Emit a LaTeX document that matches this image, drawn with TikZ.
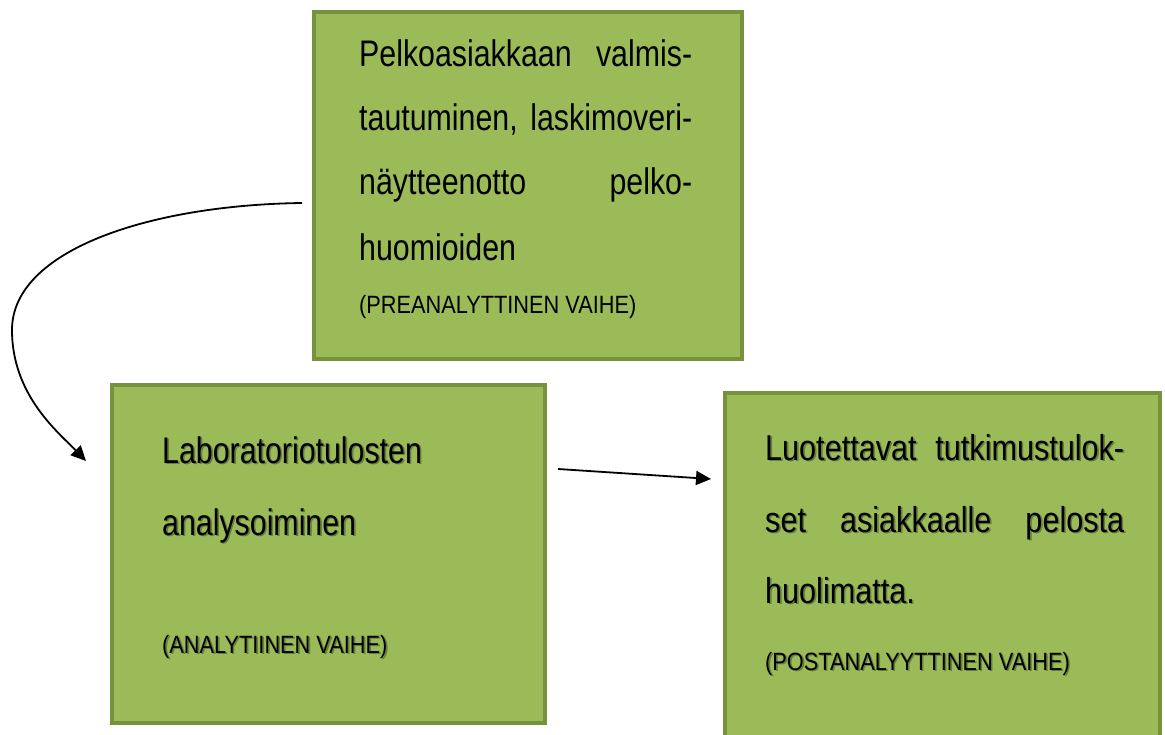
\documentclass[tikz,border=0pt]{standalone}
\usepackage{fontspec}
\setmainfont{Liberation Sans}
\newfontfamily\nfont[FakeStretch=0.82]{Liberation Sans}
\newfontfamily\rfont[FakeStretch=0.85]{Liberation Sans}
\newfontfamily\sfnt[FakeStretch=0.87]{Liberation Sans}
\usetikzlibrary{arrows.meta}
\definecolor{boxfill}{RGB}{155,187,89}
\definecolor{boxline}{RGB}{118,146,60}
\definecolor{shadowc}{RGB}{104,126,62}
\newcommand\shd[1]{\rlap{\kern1.6pt\lower1.6pt\hbox{\color{shadowc}#1}}#1}
\newcommand\mainsz{\nfont\fontsize{37}{42}\selectfont}
\newcommand\rsz{\rfont\fontsize{36}{42}\selectfont}
\newcommand\smallsz{\sfnt\fontsize{25}{30}\selectfont}
\begin{document}
\begin{tikzpicture}[x={(1pt,0)},y={(0,-1pt)},
  greenbox/.style={draw=boxline,fill=boxfill,line width=4pt,rectangle,inner sep=0pt},
  txt/.style={anchor=base west,inner sep=0pt,text=black},
  conn/.style={draw=black,line width=1.8pt,-{Triangle[length=15pt,width=14pt]}}]
\useasboundingbox (0,0) rectangle (1165,735);
\clip (0,0) rectangle (1165,735);
\fill[white] (0,0) rectangle (1165,735);
% boxes
\node[greenbox,minimum width=428pt,minimum height=347pt] (pre) at (528,185.5) {};
\node[greenbox,minimum width=433pt,minimum height=338pt] (ana) at (328.5,554) {};
\node[greenbox,minimum width=435pt,minimum height=352pt] (post) at (942.5,569) {};
% top box text
\node[txt,font=\mainsz] (p1) at (359,67) {\makebox[333pt][s]{Pelkoasiakkaan valmis-}};
\node[txt,font=\mainsz] (p2) at (359,131) {\makebox[333pt][s]{tautuminen, laskimoveri-}};
\node[txt,font=\mainsz] (p3) at (359,195) {\makebox[333pt][s]{näytteenotto pelko-}};
\node[txt,font=\mainsz] (p4) at (359,261) {huomioiden};
\node[txt,font=\smallsz] (p5) at (359,314) {(PREANALYTTINEN VAIHE)};
% left box text
\node[txt,font=\mainsz] (a1) at (162,463) {\shd{Laboratoriotulosten}};
\node[txt,font=\mainsz] (a2) at (162,535) {\shd{analysoiminen}};
\node[txt,font=\smallsz] (a3) at (162,653) {\shd{(ANALYTIINEN VAIHE)}};
% right box text
\node[txt,font=\rsz] (r1) at (765,460) {\shd{\makebox[359pt][s]{Luotettavat tutkimustulok-}}};
\node[txt,font=\rsz] (r2) at (765,532) {\shd{\makebox[359pt][s]{set asiakkaalle pelosta}}};
\node[txt,font=\rsz] (r3) at (765,603) {\shd{huolimatta.}};
\node[txt,font=\smallsz] (r4) at (765,670) {\shd{(POSTANALYYTTINEN VAIHE)}};
% connectors
\coordinate (cs) at (302,203);
\coordinate (cm) at (12,330);
\coordinate (ce) at (86,461);
\coordinate (ss) at (558,469);
\coordinate (se) at (711,479);
\draw[conn] (cs) .. controls (150,205) and (12,250) .. (cm)
  .. controls (12,395) and (58,432) .. (ce);
\draw[conn] (ss) -- (se);
\end{tikzpicture}
\end{document}
